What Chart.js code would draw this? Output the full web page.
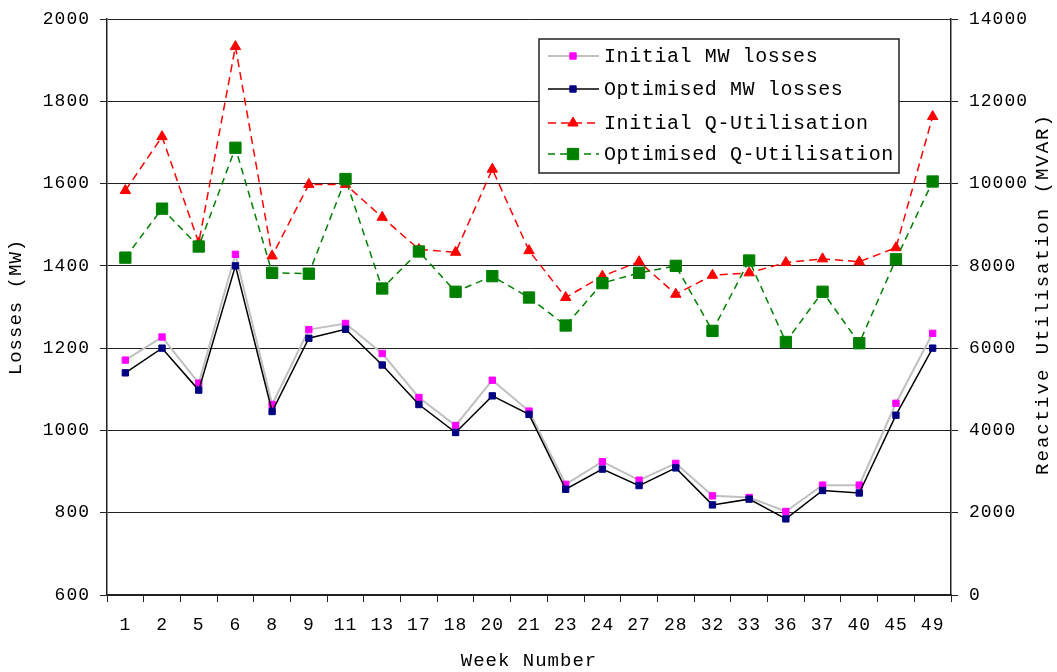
<!DOCTYPE html>
<html>
<head>
<meta charset="utf-8">
<script src="https://cdn.jsdelivr.net/npm/chart.js@4/dist/chart.umd.min.js"></script>
<style>
  html, body { margin: 0; padding: 0; background: #fff; }
  #wrap { width: 1057px; height: 672px; }
</style>
</head>
<body>
<div id="wrap"><canvas id="graph" width="1057" height="672"></canvas></div>
<script>
// week numbers on the x axis
var weeks = ['1','2','5','6','8','9','11','13','17','18','20','21','23','24','27','28','32','33','36','37','40','45','49'];

// losses, MW (left axis)
var initialMW   = [1171,1227,1115,1428,1063,1245,1260,1187,1080,1012,1122,1047,869,924,879,920,841,837,803,867,867,1066,1236];
var optimisedMW = [1140,1200,1098,1400,1046,1224,1246,1159,1063,995,1084,1039,857,906,866,909,819,833,785,854,848,1037,1200];

// reactive utilisation, MVAR (right axis)
var initialQ   = [9830,11140,8560,13330,8240,9980,9980,9180,8400,8330,10350,8370,7230,7750,8100,7310,7770,7830,8080,8170,8100,8440,11630];
var optimisedQ = [8200,9390,8470,10870,7830,7810,10110,7450,8350,7370,7750,7230,6550,7580,7830,8000,6420,8130,6150,7370,6120,8160,10050];

var rightTitle = 'Reactive Utilisation (MVAR)';
var mono = 'Liberation Mono';

/* small marker painter, used by the legend box */
function paintMarker(ctx, style, x, y, r, fill)
{
    ctx.fillStyle = fill;
    ctx.strokeStyle = fill;
    ctx.lineWidth = 1;
    ctx.setLineDash([]);
    ctx.beginPath();
    if (style === 'triangle') {
        var a = -Math.PI / 2;
        ctx.moveTo(x + Math.cos(a) * r, y + Math.sin(a) * r);
        for (var k = 1; k < 3; k++) {
            a += 2 * Math.PI / 3;
            ctx.lineTo(x + Math.cos(a) * r, y + Math.sin(a) * r);
        }
        ctx.closePath();
    } else {
        var s = r * Math.SQRT1_2;
        ctx.rect(x - s, y - s, 2 * s, 2 * s);
    }
    ctx.fill();
    ctx.stroke();
}

/* spacing out the letters like the original picture */
var spacing = {
    id: 'spacing',
    beforeDraw: function (chart) {
        chart.ctx.letterSpacing = '1px';
    }
};

/* right axis title reads bottom-to-top in the original */
var rightAxisTitle = {
    id: 'rightAxisTitle',
    afterDraw: function (chart) {
        var ctx = chart.ctx;
        ctx.save();
        ctx.translate(1043, 294);
        ctx.rotate(-Math.PI / 2);
        ctx.font = '19px "' + mono + '"';
        ctx.letterSpacing = '2px';
        ctx.fillStyle = '#000';
        ctx.textAlign = 'center';
        ctx.textBaseline = 'middle';
        ctx.fillText(rightTitle, 0, 0);
        ctx.restore();
    }
};

/* legend drawn inside the plot, boxed */
var boxLegend = {
    id: 'boxLegend',
    afterDraw: function (chart) {
        var ctx = chart.ctx;
        var x0 = 539, y0 = 39, w = 360, h = 134;
        var rows = [56, 89, 123, 154];
        ctx.save();
        ctx.fillStyle = '#fff';
        ctx.fillRect(x0, y0, w, h);
        ctx.lineWidth = 1.5;
        ctx.strokeStyle = '#222';
        ctx.setLineDash([]);
        ctx.strokeRect(x0, y0, w, h);

        chart.data.datasets.forEach(function (ds, i) {
            var y = rows[i];
            ctx.beginPath();
            ctx.strokeStyle = ds.borderColor;
            ctx.lineWidth = ds.borderWidth;
            ctx.setLineDash(ds.borderDash || []);
            ctx.moveTo(548, y);
            ctx.lineTo(599, y);
            ctx.stroke();
            paintMarker(ctx, ds.pointStyle, 573, y, ds.pointRadius, ds.pointBackgroundColor);

            ctx.fillStyle = '#000';
            ctx.font = '20px "' + mono + '"';
            ctx.letterSpacing = '0.6px';
            ctx.textBaseline = 'middle';
            ctx.textAlign = 'left';
            ctx.fillText(ds.label, 604, y + 1);
        });
        ctx.restore();
    }
};

var tickFont = { family: mono, size: 18 };
var titleFont = { family: mono, size: 19 };
var gridColor = '#222';
var plain = function (v) { return String(v); };

new Chart(document.getElementById('graph'), {
    type: 'line',
    data: {
        labels: weeks,
        datasets: [
            {
                label: 'Initial MW losses',
                data: initialMW,
                yAxisID: 'y',
                borderColor: '#c0c0c0',
                borderWidth: 2,
                pointStyle: 'rect',
                pointRadius: 4.5,
                pointBackgroundColor: '#ff00ff',
                pointBorderColor: '#ff00ff',
                pointBorderWidth: 1,
                order: 2
            },
            {
                label: 'Optimised MW losses',
                data: optimisedMW,
                yAxisID: 'y',
                borderColor: '#000000',
                borderWidth: 1.5,
                pointStyle: 'rect',
                pointRadius: 4.5,
                pointBackgroundColor: '#000080',
                pointBorderColor: '#000080',
                pointBorderWidth: 1,
                order: 1
            },
            {
                label: 'Initial Q-Utilisation',
                data: initialQ,
                yAxisID: 'y1',
                borderColor: '#ff0000',
                borderWidth: 1.5,
                borderDash: [8, 5],
                pointStyle: 'triangle',
                pointRadius: 6,
                pointBackgroundColor: '#ff0000',
                pointBorderColor: '#ff0000',
                pointBorderWidth: 1,
                order: 4
            },
            {
                label: 'Optimised Q-Utilisation',
                data: optimisedQ,
                yAxisID: 'y1',
                borderColor: '#008000',
                borderWidth: 1.5,
                borderDash: [7, 5],
                pointStyle: 'rect',
                pointRadius: 8,
                pointBackgroundColor: '#008000',
                pointBorderColor: '#008000',
                pointBorderWidth: 1,
                order: 3
            }
        ]
    },
    options: {
        responsive: false,
        animation: false,
        events: [],
        layout: { padding: { top: 19, left: 0, right: 0, bottom: 0 } },
        plugins: {
            legend: { display: false },
            tooltip: { enabled: false }
        },
        scales: {
            x: {
                offset: true,
                grid: { drawOnChartArea: false, offset: true, tickLength: 7, color: gridColor },
                border: { display: true, color: gridColor, width: 1.5 },
                ticks: { font: tickFont, color: '#000', padding: 12, autoSkip: false, maxRotation: 0 },
                title: { display: true, text: 'Week Number', font: titleFont, color: '#000', padding: { top: -2, bottom: 0 } },
                afterFit: function (scale) { scale.height = 77; }
            },
            y: {
                position: 'left',
                min: 600,
                max: 2000,
                grid: { color: gridColor, tickLength: 7 },
                border: { display: true, color: gridColor, width: 1.5 },
                ticks: { stepSize: 200, font: tickFont, color: '#000', padding: 10, callback: plain },
                title: { display: true, text: 'Losses (MW)', font: titleFont, color: '#000', padding: { top: 5, bottom: 0 } },
                afterFit: function (scale) { scale.width = 107; scale.paddingTop = 0; scale.paddingBottom = 0; }
            },
            y1: {
                position: 'right',
                min: 0,
                max: 14000,
                grid: { drawOnChartArea: false, color: gridColor, tickLength: 7 },
                border: { display: true, color: gridColor, width: 1.5 },
                ticks: { stepSize: 2000, font: tickFont, color: '#000', padding: 11, callback: plain },
                title: { display: false },
                afterFit: function (scale) { scale.width = 106; scale.paddingTop = 0; scale.paddingBottom = 0; }
            }
        }
    },
    plugins: [spacing, rightAxisTitle, boxLegend]
});
</script>
</body>
</html>
